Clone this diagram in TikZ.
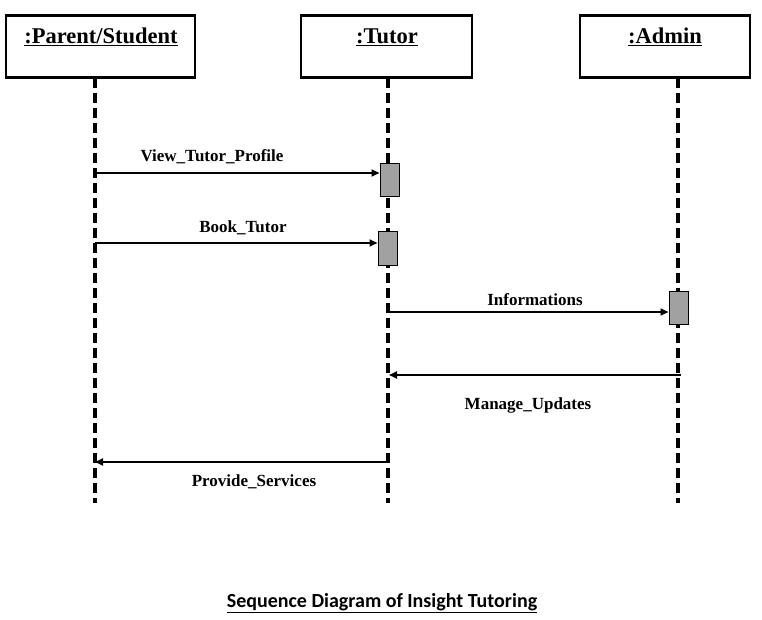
\documentclass[tikz,border=0pt]{standalone}
\usepackage{fontspec}
\setmainfont{Liberation Serif}
\newfontfamily\calfont{Carlito}
\usetikzlibrary{arrows.meta}
\tikzset{
  objbox/.style={draw, line width=2.8pt, minimum width=#1, minimum height=62pt, inner sep=0pt},
  objtitle/.style={font=\fontsize{22.5}{26}\selectfont\bfseries, inner sep=0pt},
  lifeline/.style={line width=3.2pt, dash pattern=on 10pt off 5pt},
  act/.style={draw, line width=1pt, fill=black!37, minimum width=19pt, minimum height=33pt, inner sep=0pt},
  msg/.style={line width=1.7pt, -{Triangle[length=8pt,width=7pt]}},
  msglabel/.style={font=\fontsize{17}{19}\selectfont\bfseries, inner sep=0pt}
}
\begin{document}
\begin{tikzpicture}[x=1pt,y=-1pt]
\useasboundingbox (0,0) rectangle (762,620);
% object boxes
\node[objbox=189pt] (ps) at (100.5,46.5) {};
\node[objbox=171pt] (tu) at (386.5,46.5) {};
\node[objbox=170pt] (ad) at (665,46.5) {};
\node[objtitle] (psT) at (101,37) {\underline{:Parent/Student}};
\node[objtitle] (tuT) at (387,37) {\underline{:Tutor}};
\node[objtitle] (adT) at (665,37) {\underline{:Admin}};
% lifelines
\coordinate (psTop) at (95,78);
\coordinate (tuTop) at (388,78);
\coordinate (adTop) at (678,78);
\coordinate (psBot) at (95,503);
\coordinate (tuBot) at (388,503);
\coordinate (adBot) at (678,503);
\draw[lifeline] (psTop) -- (psBot);
\draw[lifeline] (tuTop) -- (tuBot);
\draw[lifeline] (adTop) -- (adBot);
% activations
\node[act] (a1) at (389.5,180.5) {};
\node[act] (a2) at (387.5,248.5) {};
\node[act] (a3) at (678.5,308) {};
% messages
\coordinate (m1) at (95,173);
\coordinate (m2) at (95,243);
\coordinate (m3) at (388,312);
\coordinate (m4) at (681,375);
\coordinate (m4e) at (389,375);
\coordinate (m5) at (387,462);
\coordinate (m5e) at (95,462);
\draw[msg] (m1) -- (m1 -| a1.west);
\draw[msg] (m2) -- (m2 -| a2.west);
\draw[msg] (m3) -- (m3 -| a3.west);
\draw[msg] (m4) -- (m4e);
\draw[msg] (m5) -- (m5e);
% labels
\node[msglabel] (l1) at (212,157) {View\_Tutor\_Profile};
\node[msglabel] (l2) at (243,228) {Book\_Tutor};
\node[msglabel] (l3) at (535,300) {Informations};
\node[msglabel] (l4) at (528,405) {Manage\_Updates};
\node[msglabel] (l5) at (254,482) {Provide\_Services};
% title
\node[font=\calfont\fontsize{20}{24}\selectfont\bfseries, inner sep=0pt] (title) at (382,603) {\underline{Sequence Diagram of Insight Tutoring}};
\end{tikzpicture}
\end{document}
